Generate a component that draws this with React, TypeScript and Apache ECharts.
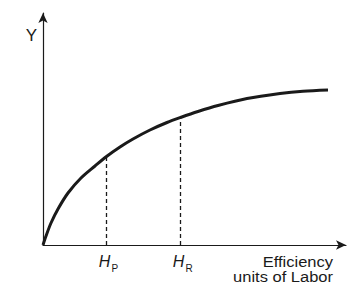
import React, { useEffect, useRef } from "react";
import * as echarts from "echarts";

const curveX = [0, 3, 8, 15, 25, 38, 52, 63.5, 77, 90, 107, 124, 137.5, 155, 175, 204, 237, 260, 285];
const curveY = [0, 9, 22, 36, 52, 67, 79, 88.5, 98, 106, 115, 122.5, 127.5, 133.5, 139.5, 146.5, 151.5, 153.8, 155];
const markX = [63.5, 137.5];
const markY = [88.5, 127.5];
const markNames = ["P", "R"];
const yLabel = "Y";
const xLabelLines = ["Efficiency", "units of Labor"];

const FONT = "'Liberation Sans', Arial, sans-serif";
const INK = "#1a1a1a";

export default function App() {
  const ref = useRef<HTMLDivElement>(null);
  useEffect(() => {
    if (!ref.current) return;
    const chart = echarts.init(ref.current, undefined, { renderer: "svg" });
    const axisLine = {
      show: true,
      lineStyle: { color: INK, width: 1.2 },
      symbol: ["none", "arrow"],
      symbolSize: [7, 10],
    };
    const series: any[] = [
      {
        type: "line",
        data: curveX.map((x, i) => [x, curveY[i]]),
        smooth: 0.3,
        symbol: "none",
        lineStyle: { color: INK, width: 3 },
        z: 5,
      },
    ];
    markX.forEach((x, i) => {
      series.push({
        type: "line",
        data: [
          [x, 0],
          [x, markY[i]],
        ],
        symbol: "none",
        lineStyle: { color: INK, width: 1.3, type: [4, 3] },
        z: 3,
      });
    });
    const option: any = {
      animation: false,
      grid: { left: 43, top: 13, right: 11, bottom: 42 },
      xAxis: {
        type: "value",
        min: 0,
        max: 303,
        axisLine,
        axisTick: { show: false },
        axisLabel: { show: false },
        splitLine: { show: false },
      },
      yAxis: {
        type: "value",
        min: 0,
        max: 232,
        axisLine,
        axisTick: { show: false },
        axisLabel: { show: false },
        splitLine: { show: false },
      },
      series,
    };
    chart.setOption(option);
    const graphics: any[] = [];
    markX.forEach((x, i) => {
      const p = chart.convertToPixel({ gridIndex: 0 }, [x, 0]) as number[];
      graphics.push({
        type: "text",
        x: p[0] - 2,
        y: p[1] + 8,
        style: {
          text: "H",
          font: `italic 16px ${FONT}`,
          fill: INK,
          align: "center",
          verticalAlign: "top",
        },
      });
      graphics.push({
        type: "text",
        x: p[0] + 5,
        y: p[1] + 18,
        style: {
          text: markNames[i],
          font: `10px ${FONT}`,
          fill: INK,
          align: "left",
          verticalAlign: "top",
        },
      });
    });
    const o = chart.convertToPixel({ gridIndex: 0 }, [0, 0]) as number[];
    graphics.push({
      type: "text",
      x: o[0] - 11.5,
      y: 35,
      style: { text: yLabel, font: `17px ${FONT}`, fill: INK, align: "center", verticalAlign: "middle" },
    });
    xLabelLines.forEach((t, i) => {
      graphics.push({
        type: "text",
        x: 333,
        y: 254.5 + i * 15,
        scaleX: 1.1,
        style: {
          text: t,
          font: `15px ${FONT}`,
          lineHeight: 15,
          fill: INK,
          align: "right",
          verticalAlign: "top",
        },
      });
    });
    chart.setOption({ graphic: graphics });
    return () => chart.dispose();
  }, []);
  return <div ref={ref} style={{ width: 357, height: 287, position: "absolute", left: 0, top: 0 }} />;
}
